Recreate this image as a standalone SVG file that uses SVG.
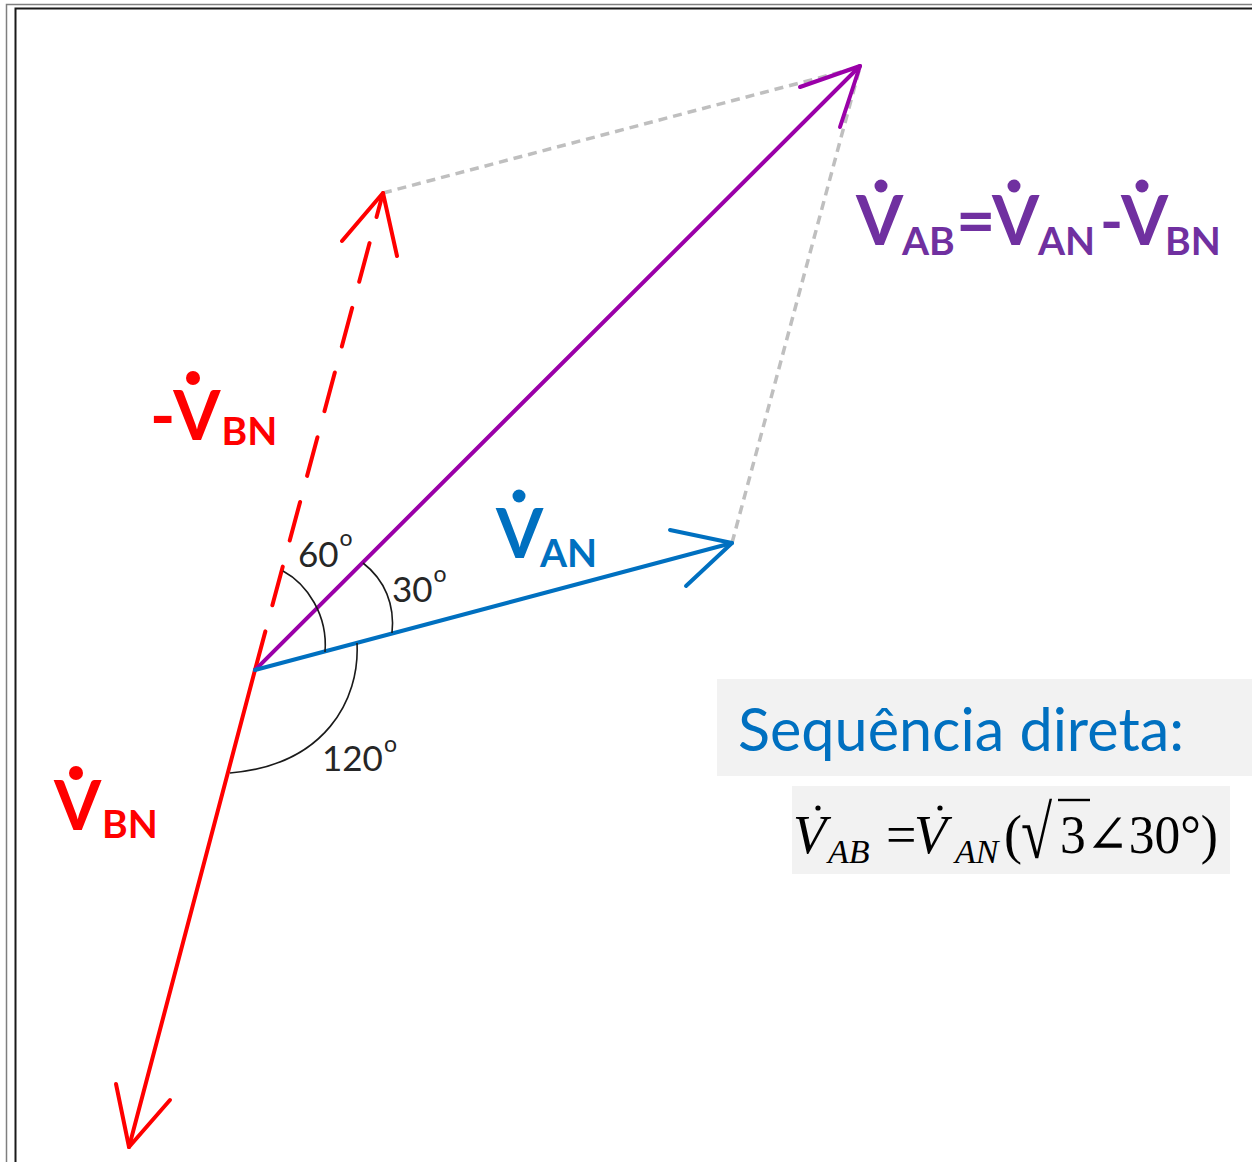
<svg xmlns="http://www.w3.org/2000/svg" width="1252" height="1162" viewBox="0 0 1252 1162">
<style>
.vec{fill:none;stroke-width:4;stroke-linecap:round;stroke-linejoin:round}
.red{stroke:#FF0000}.blue{stroke:#0070C0}.pur{stroke:#9A00A8}
.dot{fill:none;stroke:#BFBFBF;stroke-width:3.5;stroke-dasharray:9 6}
.arc{fill:none;stroke:#1a1a1a;stroke-width:1.6}
.ang{font-family:Lato,"Open Sans",sans-serif;font-size:35px;fill:#262626}
.deg{font-size:23px}
.lbl{font-family:Lato,"Open Sans",sans-serif;font-weight:700;font-size:68px}
.sub{font-size:39px}
.fm{font-family:"Liberation Serif","DejaVu Serif",serif;font-size:54px;fill:#000}
.it{font-style:italic}
</style>
<rect width="1252" height="1162" fill="#fff"/>
<g id="frame">
<rect x="6.5" y="4.5" width="1300" height="1200" fill="none" stroke="#7f7f7f" stroke-width="1.5"/>
<rect x="15.5" y="8.5" width="1300" height="1200" fill="none" stroke="#1a1a1a" stroke-width="2"/>
</g>
<g id="connectors">
<line class="dot" x1="383" y1="193" x2="860" y2="67"/>
<line class="dot" x1="732" y1="543" x2="860" y2="67"/>
<line class="vec red" x1="255" y1="670" x2="383" y2="193" stroke-dasharray="40 27" stroke-linecap="butt"/>
<polyline class="vec red" points="342,241 383,193 397,256"/>
<line class="vec red" x1="255" y1="670" x2="129" y2="1147"/>
<polyline class="vec red" points="116,1084 129,1147 170,1100"/>
<line class="vec pur" x1="255" y1="670" x2="860" y2="66"/>
<polyline class="vec pur" points="800,87 860,66 840,127"/>
<line class="vec blue" x1="255" y1="670" x2="732" y2="543"/>
<polyline class="vec blue" points="670,530 732,543 686,586"/>
</g>
<g id="angles">
<path class="arc" d="M283,571 C307,584 328,615 325,652"/>
<path class="arc" d="M363,563 C385,580 395,605 392,633"/>
<path class="arc" d="M357,643 C360,700 325,765 230,773"/>
<text class="ang" x="298" y="567">60<tspan class="deg" dx="1" dy="-21">o</tspan></text>
<text class="ang" x="392" y="602">30<tspan class="deg" dx="1" dy="-20">o</tspan></text>
<text class="ang" x="322" y="771">120<tspan class="deg" dx="1" dy="-19">o</tspan></text>
</g>
<g id="label-neg-vbn" fill="#FF0000">
<circle cx="193" cy="378" r="7"/>
<text class="lbl" fill="#FF0000" x="150" y="440">-V<tspan class="sub" dx="1" dy="5">BN</tspan></text>
</g>
<g id="label-vbn" fill="#FF0000">
<circle cx="76" cy="773" r="7"/>
<text class="lbl" fill="#FF0000"><tspan x="54" y="830">V</tspan><tspan class="sub" x="102" y="838">BN</tspan></text>
</g>
<g id="label-van" fill="#0070C0">
<circle cx="519" cy="496" r="6.5"/>
<text class="lbl" fill="#0070C0"><tspan x="496" y="558">V</tspan><tspan class="sub" x="540" y="567">AN</tspan></text>
</g>
<g id="label-vab" fill="#7030A0">
<circle cx="881" cy="186" r="6.5"/>
<circle cx="1014" cy="186" r="6.5"/>
<circle cx="1142" cy="186" r="6.5"/>
<text class="lbl" fill="#7030A0"><tspan x="856" y="245">V</tspan><tspan class="sub" x="902" y="255">AB</tspan><tspan x="956" y="245">=</tspan><tspan x="992" y="245">V</tspan><tspan class="sub" x="1038" y="255">AN</tspan><tspan x="1100" y="243" font-size="62">-</tspan><tspan x="1121" y="245">V</tspan><tspan class="sub" x="1165" y="255">BN</tspan></text>
</g>
<g id="seq-box">
<rect x="717" y="679" width="535" height="97" fill="#F2F2F2"/>
<text x="738" y="751" font-family="Lato,'Open Sans',sans-serif" font-size="60" fill="#0070C0" textLength="446" lengthAdjust="spacingAndGlyphs">Sequência direta:</text>
</g>
<g id="formula-box">
<rect x="792" y="786" width="438" height="88" fill="#F2F2F2"/>
<circle cx="818" cy="808" r="2.6" fill="#000"/>
<circle cx="940" cy="808" r="2.6" fill="#000"/>
<line x1="1058" y1="800" x2="1090" y2="800" stroke="#000" stroke-width="2.4"/>
<text class="fm" transform="translate(1021,858) scale(1.05,1.38)" x="0" y="0">√</text>
<text class="fm"><tspan class="it" x="793" y="853">V</tspan><tspan class="it" x="828" y="863" font-size="34">AB</tspan><tspan x="886" y="853">=</tspan><tspan class="it" x="914" y="853">V</tspan><tspan class="it" x="955" y="863" font-size="34">AN</tspan><tspan x="1004" y="853">(</tspan></text>
<text class="fm" x="1060" y="853" textLength="158" lengthAdjust="spacingAndGlyphs">3∠30°)</text>
</g>
</svg>
